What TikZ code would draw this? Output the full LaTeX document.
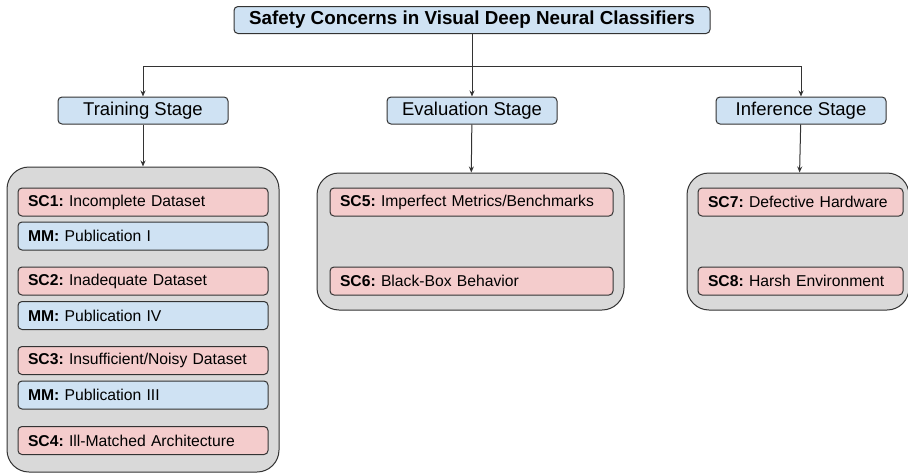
\documentclass[tikz,border=0pt]{standalone}
\usepackage{fontspec}
\setmainfont{Liberation Sans}
\usetikzlibrary{arrows.meta}
\definecolor{stageblue}{HTML}{CFE2F3}
\definecolor{scpink}{HTML}{F4CCCC}
\definecolor{panelgray}{HTML}{D9D9D9}
\definecolor{edgegray}{HTML}{333333}
\frenchspacing
\tikzset{
  stagebox/.style={draw=edgegray,line width=1,fill=stageblue,rounded corners=4,minimum height=27,inner sep=0,font=\fontsize{18.5}{20}\selectfont},
  panel/.style={draw=edgegray,line width=1,fill=panelgray,rounded corners=22,inner sep=0},
  concern/.style={draw=edgegray,line width=1,fill=scpink,rounded corners=4,minimum height=28,inner xsep=10,inner ysep=0,align=left,font=\fontsize{15.7}{17}\selectfont},
  measure/.style={concern,fill=stageblue},
  link/.style={draw=edgegray,line width=1,-{Stealth[length=6,width=5]}}
}
\begin{document}
\begin{tikzpicture}[x=1pt,y=-1pt]
\useasboundingbox (0,0) rectangle (908,474);
\node[stagebox,minimum width=476,font=\fontsize{18.8}{20}\bfseries] (title) at (472,20) {Safety Concerns in Visual Deep Neural Classifiers};
\node[stagebox,minimum width=170] (train) at (143,110.5) {Training Stage};
\node[stagebox,minimum width=170] (eval) at (472,110.5) {Evaluation Stage};
\node[stagebox,minimum width=170] (inf) at (801,110.5) {Inference Stage};
% panels
\node[panel,minimum width=272,minimum height=305] (trainpanel) at (143,319.5) {};
\node[panel,minimum width=307,minimum height=137] (evalpanel) at (470.5,241.5) {};
\node[panel,minimum width=222,minimum height=137] (infpanel) at (798,241.5) {};
% training stage entries
\node[concern,text width=230] (sc1) at (143,202) {\textbf{SC1:} Incomplete Dataset};
\node[measure,text width=230] (mm1) at (143,236) {\textbf{MM:} Publication I};
\node[concern,text width=230] (sc2) at (143,281) {\textbf{SC2:} Inadequate Dataset};
\node[measure,text width=230] (mm4) at (143,315.5) {\textbf{MM:} Publication IV};
\node[concern,text width=230] (sc3) at (143,360.5) {\textbf{SC3:} Insufficient/Noisy Dataset};
\node[measure,text width=230] (mm3) at (143,395) {\textbf{MM:} Publication III};
\node[concern,text width=230] (sc4) at (143,440.5) {\textbf{SC4:} Ill-Matched Architecture};
% evaluation and inference entries
\node[concern,text width=263] (sc5) at (471.5,202) {\textbf{SC5:} Imperfect Metrics/Benchmarks};
\node[concern,text width=263] (sc6) at (471.5,281) {\textbf{SC6:} Black-Box Behavior};
\node[concern,text width=185] (sc7) at (800.5,202) {\textbf{SC7:} Defective Hardware};
\node[concern,text width=185] (sc8) at (800.5,281) {\textbf{SC8:} Harsh Environment};
% connectors
\coordinate (hub) at (472,66);
\draw[link] (title) -- (eval);
\draw[link] (hub) -| (train);
\draw[link] (hub) -| (inf);
\draw[link] (train) -- (trainpanel);
\draw[link] (eval) -- (evalpanel);
\draw[link] (inf) -- (infpanel);
\end{tikzpicture}
\end{document}
